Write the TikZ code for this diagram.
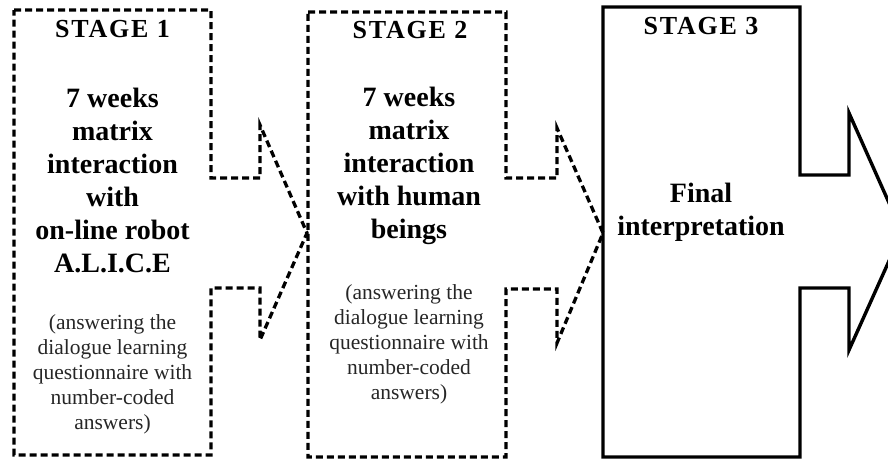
\documentclass[tikz,border=0pt]{standalone}
\usepackage{fontspec}
\setmainfont{Liberation Serif}
\begin{document}
\begin{tikzpicture}[x=1pt,y=-1pt,
  dashedline/.style={line width=3.3pt, dash pattern=on 7pt off 4pt},
  solidline/.style={line width=3.4pt},
  stagelabel/.style={font=\bfseries\fontsize{26}{30}\selectfont\addfontfeature{LetterSpace=7}, anchor=base, inner sep=0pt},
  maintext/.style={font=\bfseries\fontsize{28}{33}\selectfont, align=center, inner sep=0pt},
  smalltext/.style={font=\fontsize{21.5}{25}\selectfont, align=center, inner sep=0pt, text=black!85}]
\useasboundingbox (0,0) rectangle (888,467);
\clip (0,0) rectangle (888,467);
% stage outlines
\draw[dashedline] (14,10) -- (211,10) -- (211,178) -- (260,178) -- (260,125) -- (307,233) -- (260,340) -- (260,288) -- (211,288) -- (211,455) -- (14,455) -- cycle;
\draw[dashedline] (308,12) -- (506,12) -- (506,178) -- (557,178) -- (557,128) -- (603,233) -- (557,343) -- (557,289) -- (506,289) -- (506,457) -- (308,457) -- cycle;
\draw[solidline] (603,7) -- (800,7) -- (800,175) -- (849,175) -- (849,113) -- (902,232) -- (849,350) -- (849,288) -- (800,288) -- (800,457) -- (603,457) -- cycle;
% texts
\node[stagelabel] (s1) at (112.5,37) {STAGE 1};
\node[maintext] (m1) at (112.5,180) {7 weeks\\matrix\\interaction\\with\\on-line robot\\A.L.I.C.E};
\node[smalltext] (q1) at (112.5,374) {(answering the\\dialogue learning\\questionnaire with\\number-coded\\answers)};
\node[stagelabel] (s2) at (410,38) {STAGE 2};
\node[maintext] (m2) at (409,166) {7 weeks\\matrix\\interaction\\with human\\beings};
\node[smalltext] (q2) at (409,344) {(answering the\\dialogue learning\\questionnaire with\\number-coded\\answers)};
\node[stagelabel] (s3) at (701,34) {STAGE 3};
\node[maintext] (m3) at (701,212) {Final\\interpretation};
\end{tikzpicture}
\end{document}
